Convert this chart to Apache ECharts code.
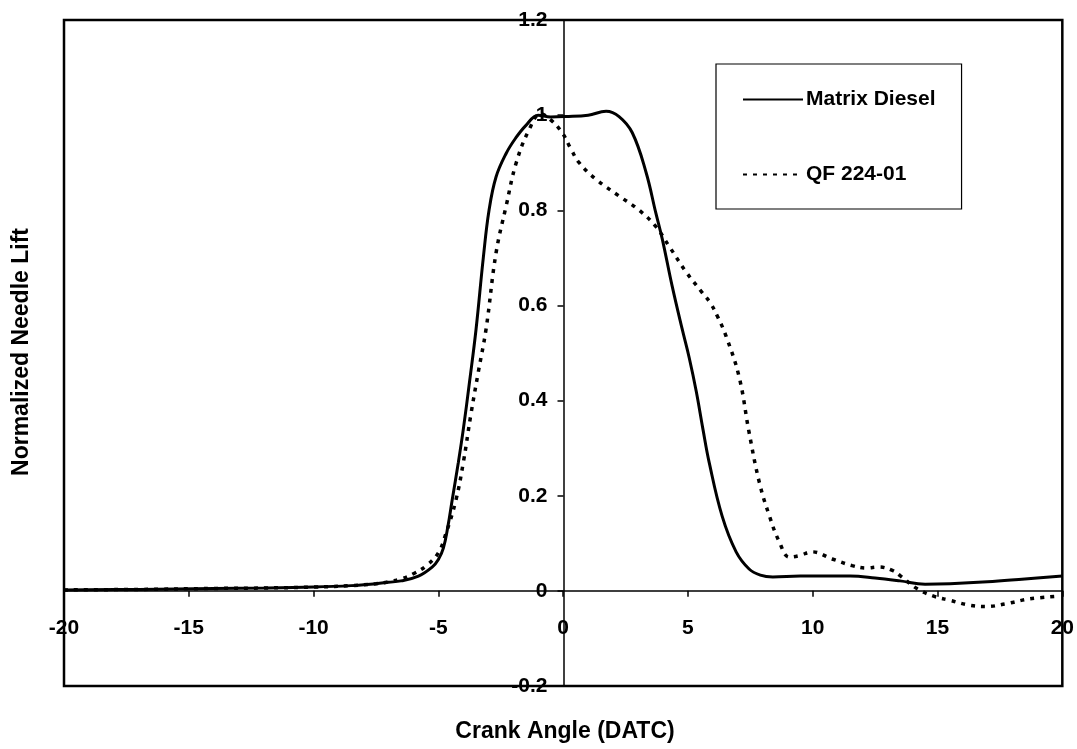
<!DOCTYPE html>
<html>
<head>
<meta charset="utf-8">
<script src="https://cdn.jsdelivr.net/npm/echarts@6/dist/echarts.min.js"></script>
<style>html,body{margin:0;padding:0;background:#fff;}#c{width:1077px;height:749px;}</style>
</head>
<body>
<div id="c"></div>
<script>
const seriesNames = ['Matrix Diesel', 'QF 224-01'];
const xTitle = 'Crank Angle (DATC)';
const yTitle = 'Normalized Needle Lift';
const xTicks = { min: -20, max: 20, interval: 5 };
const yTicks = { min: -0.2, max: 1.2, interval: 0.2 };

const matrixDiesel = [
  [-20,0.002],[-17,0.003],[-14,0.005],[-12,0.006],[-10,0.008],[-8.5,0.011],[-7.5,0.015],[-7,0.018],
  [-6.5,0.021],[-5.8,0.031],[-5.25,0.05],[-5.0,0.066],[-4.8,0.09],[-4.62,0.135],[-4.45,0.19],
  [-4.2,0.27],[-4.0,0.34],[-3.75,0.44],[-3.49,0.55],[-3.2,0.70],[-2.97,0.80],[-2.69,0.87],
  [-2.28,0.92],[-1.9,0.952],[-1.5,0.978],[-1.0,1.0],[-0.5,0.996],[0.1,0.997],[1.0,1.0],[1.72,1.008],
  [2.24,0.997],[2.77,0.963],[3.32,0.88],[3.71,0.795],[3.97,0.74],[4.37,0.64],[4.77,0.55],[5.05,0.49],
  [5.33,0.42],[5.6,0.34],[5.85,0.27],[6.37,0.157],[6.93,0.082],[7.45,0.046],[7.9,0.033],[8.4,0.029],
  [9.5,0.031],[11.5,0.031],[12.5,0.027],[13.5,0.021],[14.5,0.014],[15.5,0.015],[17,0.019],[18.5,0.025],[20,0.031]
];
const qf22401 = [
  [-20,0.002],[-17,0.003],[-14,0.005],[-12,0.006],[-10,0.008],[-8.5,0.011],[-7.5,0.015],[-7,0.019],
  [-6.5,0.025],[-6,0.036],[-5.5,0.052],[-5.0,0.08],[-4.7,0.12],[-4.3,0.19],[-4.0,0.27],[-3.7,0.37],
  [-3.4,0.46],[-3.09,0.55],[-2.69,0.71],[-2.28,0.81],[-1.88,0.90],[-1.36,0.97],[-0.9,1.003],
  [-0.5,0.99],[-0.04,0.963],[0.3,0.93],[0.64,0.90],[1.32,0.865],[2.24,0.83],[3.05,0.80],[3.71,0.766],
  [4.25,0.724],[4.93,0.67],[5.57,0.627],[5.9,0.605],[6.2,0.575],[6.53,0.535],[7.05,0.45],[7.45,0.333],
  [7.86,0.228],[8.26,0.158],[8.66,0.103],[9.06,0.071],[9.46,0.074],[9.98,0.082],[10.78,0.067],
  [11.58,0.053],[12.14,0.048],[12.66,0.05],[13.19,0.043],[13.5,0.032],[14.2,0.004],[14.9,-0.012],
  [15.5,-0.02],[16.27,-0.03],[16.95,-0.033],[17.75,-0.027],[18.68,-0.017],[19.9,-0.011]
];

const FONT = '"Liberation Sans", Arial, sans-serif';
const GRID = { left: 64, top: 20, right: 14, bottom: 63 };
const W = 1077, H = 749;
const gw = W - GRID.left - GRID.right, gh = H - GRID.top - GRID.bottom;
// shift axes inward so they cross at zero (offset computed from axis ranges)
const xOffset = -gh * (0 - yTicks.min) / (yTicks.max - yTicks.min);
const yOffset = -gw * (0 - xTicks.min) / (xTicks.max - xTicks.min);

const chart = echarts.init(document.getElementById('c'));
chart.setOption({
  backgroundColor: '#fff',
  animation: false,
  grid: Object.assign({ show: true, borderColor: '#000', borderWidth: 2.5, backgroundColor: 'transparent' }, GRID),
  xAxis: {
    type: 'value', min: xTicks.min, max: xTicks.max, interval: xTicks.interval,
    position: 'bottom', offset: xOffset,
    axisLine: { onZero: false, lineStyle: { color: '#000', width: 1.5 } },
    axisTick: { show: true, inside: false, length: 6, lineStyle: { color: '#000', width: 1.5 } },
    axisLabel: { color: '#000', fontFamily: FONT, fontWeight: 'bold', fontSize: 21, margin: 27 },
    splitLine: { show: false }
  },
  yAxis: {
    type: 'value', min: yTicks.min, max: yTicks.max, interval: yTicks.interval,
    position: 'left', offset: yOffset,
    axisLine: { onZero: false, lineStyle: { color: '#000', width: 1.5 } },
    axisTick: { show: true, inside: false, length: 6, lineStyle: { color: '#000', width: 1.5 } },
    axisLabel: { color: '#000', fontFamily: FONT, fontWeight: 'bold', fontSize: 21, margin: 16 },
    splitLine: { show: false }
  },
  legend: {
    left: 716, top: 64, orient: 'vertical',
    padding: [25, 26, 24, 26],
    itemGap: 54, itemWidth: 60, itemHeight: 22,
    borderColor: '#000', borderWidth: 1.2, backgroundColor: '#fff',
    itemStyle: { opacity: 0, color: 'rgba(0,0,0,0)', borderWidth: 0 },
    textStyle: { color: '#000', fontFamily: FONT, fontWeight: 'bold', fontSize: 21, padding: [0,0,0,-2] },
    data: seriesNames
  },
  graphic: [
    { type: 'text', x: 565, y: 732, style: { text: xTitle, font: 'bold 23px ' + FONT, fill: '#000', align: 'center', verticalAlign: 'middle', textAlign: 'center', textVerticalAlign: 'middle' } },
    { type: 'text', x: 22, y: 352, rotation: Math.PI / 2, style: { text: yTitle, font: 'bold 23px ' + FONT, fill: '#000', align: 'center', verticalAlign: 'middle', textAlign: 'center', textVerticalAlign: 'middle' } }
  ],
  series: [
    { name: seriesNames[0], type: 'line', data: matrixDiesel, symbol: 'none', smooth: 0.4,
      lineStyle: { color: '#000', width: 3, type: 'solid' }, itemStyle: { color: '#000' } },
    { name: seriesNames[1], type: 'line', data: qf22401, symbol: 'none', smooth: 0.4,
      lineStyle: { color: '#000', width: 3.5, type: [4, 6] }, itemStyle: { color: '#000' } }
  ]
});
</script>
</body>
</html>
